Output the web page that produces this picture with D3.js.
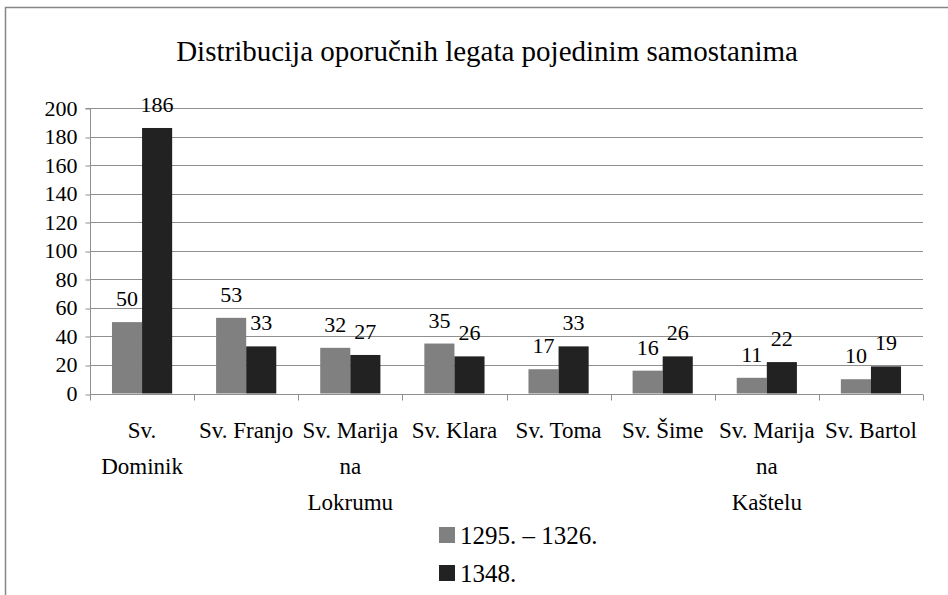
<!DOCTYPE html>
<html><head><meta charset="utf-8">
<script src="https://cdn.jsdelivr.net/npm/d3@7"></script>
<style>body{margin:0;background:#fff}svg{display:block}</style>
</head><body><svg id="c" width="948" height="595" font-family="'Liberation Serif','Times New Roman',serif"></svg>
<script>
const title = "Distribucija oporučnih legata pojedinim samostanima";
const categories = ["Sv. Dominik","Sv. Franjo","Sv. Marija na Lokrumu","Sv. Klara","Sv. Toma","Sv. Šime","Sv. Marija na Kaštelu","Sv. Bartol"];
const categoryLines = [["Sv.","Dominik"],["Sv. Franjo"],["Sv. Marija","na","Lokrumu"],["Sv. Klara"],["Sv. Toma"],["Sv. Šime"],["Sv. Marija","na","Kaštelu"],["Sv. Bartol"]];
const seriesNames = ["1295. – 1326.","1348."];
const series1 = [50,53,32,35,17,16,11,10];
const series2 = [186,33,27,26,33,26,22,19];
const yTicks = [0,20,40,60,80,100,120,140,160,180,200];
const colors = ["#808080","#222222"];

const FONT = "'Liberation Serif','Times New Roman',serif";
const svg = d3.select("#c");
const m = {l:90, r:923, t:108, b:393.5};
const axisColor = "#8f8f8f";
svg.append("rect").attr("x",5.5).attr("y",7.5).attr("width",960).attr("height",620)
  .attr("fill","#fff").attr("stroke","#868686").attr("stroke-width",1.5);

svg.append("text").attr("x",487).attr("y",61).attr("text-anchor","middle")
  .attr("font-family",FONT).style("font-size","29px").text(title);

const x = d3.scaleBand().domain(categories).range([m.l,m.r]);
const xs = d3.scaleBand().domain([0,1]).range([0,x.bandwidth()]).paddingInner(0).paddingOuter(0.73);
const y = d3.scaleLinear().domain([0,200]).range([m.b,m.t]);
const ry = v => Math.round(y(v))+0.5;

// gridlines
svg.append("g").selectAll("line").data(yTicks.filter(d=>d>0)).join("line")
  .attr("x1",m.l).attr("x2",m.r).attr("y1",ry).attr("y2",ry)
  .attr("stroke",axisColor).attr("stroke-width",1);

// y axis
const ya = svg.append("g").attr("transform",`translate(${m.l+0.5},0)`)
  .call(d3.axisLeft(y).tickValues(yTicks).tickSize(5).tickPadding(8));
ya.attr("font-family",FONT).attr("font-size",null);
ya.select(".domain").attr("stroke",axisColor).attr("d",`M-5,${ry(200)}H0V${ry(0)}`);
ya.selectAll(".tick line").attr("stroke",axisColor).attr("transform",d=>`translate(0,${ry(d)-y(d)})`);
ya.selectAll(".tick text").style("font-size","22px").attr("fill","#000");

// bars
const series = [series1,series2];
const g = svg.append("g");
series.forEach((s,si)=>{
  g.selectAll(null).data(s).join("rect")
    .attr("x",(d,i)=>x(categories[i])+xs(si))
    .attr("width",xs.bandwidth())
    .attr("y",d=>y(d)).attr("height",d=>y(0)-y(d))
    .attr("fill",colors[si]);
  g.selectAll(null).data(s).join("text")
    .attr("x",(d,i)=>x(categories[i])+xs(si)+xs.bandwidth()/2)
    .attr("y",d=>y(d)-16).attr("text-anchor","middle")
    .attr("font-family",FONT).style("font-size","22px").text(d=>d);
});

// x axis
const xaY = ry(0);
const xa = svg.append("g");
xa.append("line").attr("x1",m.l).attr("x2",m.r).attr("y1",xaY).attr("y2",xaY).attr("stroke",axisColor);
const bounds = categories.map(c=>x(c)).concat([m.r]);
xa.selectAll(".tk").data(bounds).join("line").attr("class","tk")
  .attr("x1",d=>Math.round(d)+0.5).attr("x2",d=>Math.round(d)+0.5).attr("y1",xaY).attr("y2",xaY+6).attr("stroke",axisColor);

categories.forEach((c,ci)=>{
  const t = xa.append("text").attr("text-anchor","middle").attr("font-family",FONT).style("font-size","23px");
  const cx = x(c)+x.bandwidth()/2;
  categoryLines[ci].forEach((ln,i)=>{
    t.append("tspan").attr("x",cx).attr("y",438+i*36).text(ln);
  });
});

// legend
const lg = svg.append("g");
seriesNames.forEach((n,i)=>{
  const yy = 527 + i*38;
  lg.append("rect").attr("x",439).attr("y",yy).attr("width",16).attr("height",16).attr("fill",colors[i]);
  lg.append("text").attr("x",460).attr("y",yy+17).attr("font-family",FONT).style("font-size","25px").text(n);
});
</script></body></html>
